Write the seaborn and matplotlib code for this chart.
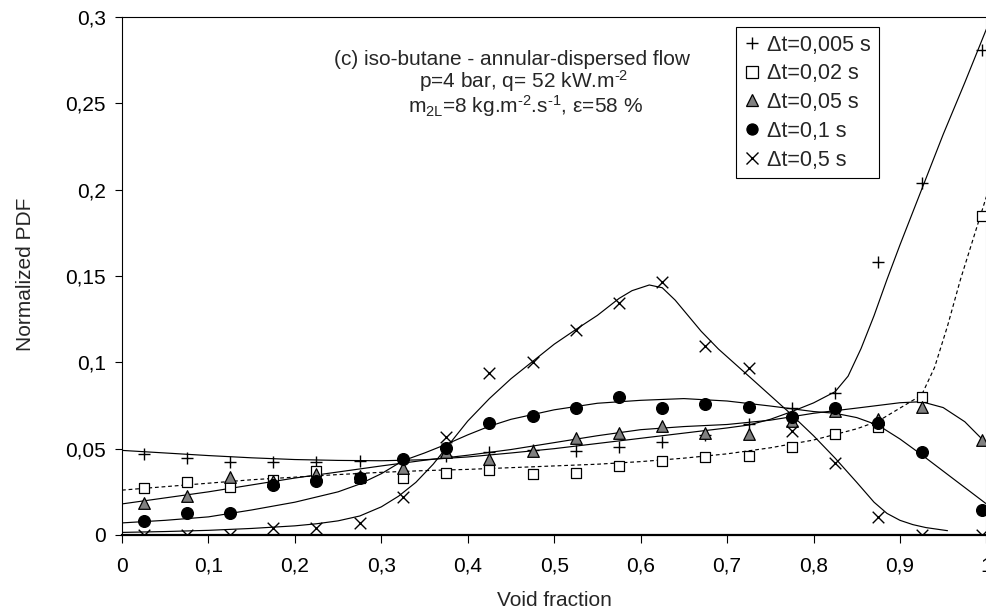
import numpy as np
import pandas as pd
import matplotlib
matplotlib.use("Agg")
import matplotlib.pyplot as plt
from matplotlib.lines import Line2D
import seaborn as sns

# ---------------- data ----------------
bins = [0.025, 0.075, 0.125, 0.175, 0.225, 0.275, 0.325, 0.375, 0.425, 0.475,
        0.525, 0.575, 0.625, 0.675, 0.725, 0.775, 0.825, 0.875, 0.925, 0.995]

pdf_005 = [0.047, 0.0445, 0.042, 0.0425, 0.0425, 0.043, 0.044, 0.046, 0.048, 0.049,
           0.0487, 0.051, 0.054, 0.058, 0.064, 0.0734, 0.082, 0.158, 0.204, 0.281]
pdf_02 = [0.027, 0.0305, 0.028, 0.032, 0.037, 0.033, 0.033, 0.036, 0.0376, 0.0353,
          0.0357, 0.040, 0.043, 0.045, 0.0457, 0.051, 0.0585, 0.0625, 0.080, 0.185]
pdf_05 = [0.0187, 0.0226, 0.0338, 0.031, 0.0353, 0.034, 0.0386, 0.048, 0.044, 0.0487,
          0.056, 0.059, 0.0633, 0.0593, 0.0585, 0.066, 0.072, 0.067, 0.0743, 0.055]
pdf_1 = [0.0083, 0.0125, 0.013, 0.029, 0.031, 0.033, 0.044, 0.0506, 0.0647, 0.069,
         0.0737, 0.080, 0.0737, 0.0759, 0.0743, 0.0685, 0.0734, 0.065, 0.048, 0.0145]
pdf_5 = [0.0, 0.0, 0.0, 0.0042, 0.0042, 0.0068, 0.022, 0.0566, 0.094, 0.1004,
         0.1187, 0.1345, 0.1467, 0.1095, 0.097, 0.060, 0.0415, 0.0102, 0.0, 0.0]

# trend curves
fit_005_x = [0, 0.05, 0.1, 0.15, 0.2, 0.25, 0.3, 0.35, 0.4, 0.45, 0.5, 0.55, 0.6, 0.65,
             0.7, 0.725, 0.75, 0.775, 0.8, 0.825, 0.84, 0.855, 0.87, 0.885, 0.9, 0.925,
             0.95, 0.975, 1.0]
fit_005_y = [0.049, 0.0475, 0.046, 0.0447, 0.0437, 0.0432, 0.043, 0.0436, 0.0452, 0.0475,
             0.050, 0.053, 0.056, 0.059, 0.062, 0.0637, 0.067, 0.0715, 0.0765, 0.083,
             0.092, 0.108, 0.127, 0.148, 0.168, 0.200, 0.232, 0.262, 0.293]

fit_02_x = [0, 0.05, 0.1, 0.15, 0.2, 0.25, 0.3, 0.35, 0.4, 0.45, 0.5, 0.55, 0.6, 0.65,
            0.7, 0.75, 0.8, 0.85, 0.875, 0.9, 0.925, 0.94, 0.955, 0.97, 0.985, 1.0]
fit_02_y = [0.026, 0.028, 0.030, 0.032, 0.0335, 0.035, 0.0363, 0.0373, 0.038, 0.039,
            0.040, 0.041, 0.0425, 0.0445, 0.047, 0.0505, 0.055, 0.0615, 0.066, 0.0735,
            0.081, 0.097, 0.121, 0.148, 0.172, 0.196]

fit_05_x = [0, 0.05, 0.1, 0.15, 0.2, 0.25, 0.3, 0.35, 0.4, 0.45, 0.5, 0.55, 0.6, 0.65,
            0.7, 0.75, 0.8, 0.85, 0.9, 0.925, 0.95, 0.975, 1.0]
fit_05_y = [0.018, 0.0215, 0.025, 0.029, 0.033, 0.0365, 0.040, 0.0433, 0.0462, 0.0495,
            0.0535, 0.0575, 0.061, 0.0628, 0.064, 0.0665, 0.0705, 0.0735, 0.0766, 0.0772,
            0.0738, 0.0656, 0.053]

fit_1_x = [0, 0.05, 0.1, 0.15, 0.2, 0.25, 0.275, 0.3, 0.325, 0.35, 0.375, 0.4, 0.425,
           0.45, 0.5, 0.55, 0.6, 0.65, 0.7, 0.75, 0.8, 0.825, 0.85, 0.875, 0.9, 0.925,
           0.95, 0.975, 1.0]
fit_1_y = [0.007, 0.0085, 0.0105, 0.0145, 0.019, 0.025, 0.0295, 0.0355, 0.043, 0.0475,
           0.0525, 0.058, 0.063, 0.067, 0.0725, 0.0763, 0.078, 0.079, 0.0776, 0.0747,
           0.0715, 0.0705, 0.068, 0.0635, 0.0556, 0.0465, 0.037, 0.0275, 0.018]

fit_5_x = [0, 0.05, 0.1, 0.15, 0.2, 0.225, 0.25, 0.275, 0.3, 0.32, 0.34, 0.36, 0.38,
           0.4, 0.425, 0.45, 0.475, 0.5, 0.525, 0.55, 0.575, 0.59, 0.61, 0.625, 0.64,
           0.655, 0.67, 0.69, 0.73, 0.77, 0.8, 0.825, 0.85, 0.87, 0.885, 0.9, 0.915,
           0.93, 0.955]
fit_5_y = [0.0015, 0.002, 0.0027, 0.0038, 0.0053, 0.0065, 0.0082, 0.011, 0.0163, 0.0225,
           0.0305, 0.041, 0.0535, 0.066, 0.079, 0.0905, 0.1005, 0.1105, 0.119, 0.1272,
           0.137, 0.1415, 0.1448, 0.1432, 0.136, 0.127, 0.118, 0.1077, 0.0898, 0.0718,
           0.0575, 0.0445, 0.0305, 0.019, 0.0125, 0.0085, 0.006, 0.0043, 0.0025]

labels = ["\u0394t=0,005 s", "\u0394t=0,02 s", "\u0394t=0,05 s", "\u0394t=0,1 s", "\u0394t=0,5 s"]
x_ticks = [0, 0.1, 0.2, 0.3, 0.4, 0.5, 0.6, 0.7, 0.8, 0.9, 1.0]
x_ticklabels = ["0", "0,1", "0,2", "0,3", "0,4", "0,5", "0,6", "0,7", "0,8", "0,9", "1"]
y_ticks = [0, 0.05, 0.1, 0.15, 0.2, 0.25, 0.3]
y_ticklabels = ["0", "0,05", "0,1", "0,15", "0,2", "0,25", "0,3"]

# ---------------- style ----------------
sns.set_style("white")
plt.rcParams["font.family"] = ["Liberation Sans", "DejaVu Sans"]
plt.rcParams["mathtext.fontset"] = "custom"
plt.rcParams["mathtext.rm"] = "Liberation Sans"
plt.rcParams["mathtext.it"] = "Liberation Sans:italic"
FS = 15
LFS = 15.5

W, H = 986, 614
fig = plt.figure(figsize=(W / 100, H / 100), dpi=100)
ax = fig.add_axes([122 / W, (H - 535) / H, 864.4 / W, 518 / H])

styles = [
    dict(marker="+", face="black"),
    dict(marker="s", face="white"),
    dict(marker="^", face="#808080"),
    dict(marker="o", face="black"),
    dict(marker="x", face="black"),
]
fits = [(fit_005_x, fit_005_y), (fit_02_x, fit_02_y), (fit_05_x, fit_05_y),
        (fit_1_x, fit_1_y), (fit_5_x, fit_5_y)]
series = [pdf_005, pdf_02, pdf_05, pdf_1, pdf_5]

# trend curves
for i, (fx, fy) in enumerate(fits):
    ls = (0, (3.2, 2.4)) if i == 1 else "-"
    sns.lineplot(x=fx, y=fy, ax=ax, color="black", linewidth=0.85, linestyle=ls,
                 estimator=None, sort=False, zorder=2)

# data points
sizes = [80, 62, 70, 72, 70]
for i, vals in enumerate(series):
    st = styles[i]
    if st["marker"] in ("+", "x"):
        sns.scatterplot(x=bins, y=vals, ax=ax, marker=st["marker"], s=sizes[i],
                        color="black", linewidth=1.0, zorder=3 + i)
    else:
        sns.scatterplot(x=bins, y=vals, ax=ax, marker=st["marker"], s=sizes[i],
                        color=st["face"], edgecolor="black", linewidth=0.9, zorder=3 + i)

ax.set_xlim(0, 1)
ax.set_ylim(0, 0.3)
ax.set_xticks(x_ticks)
ax.set_xticklabels(x_ticklabels)
ax.set_yticks(y_ticks)
ax.set_yticklabels(y_ticklabels)
ax.tick_params(axis="x", direction="out", length=5.5, width=0.8, pad=10, labelsize=FS,
               colors="black", bottom=True)
ax.tick_params(axis="y", direction="out", length=5, width=0.8, pad=6.5, labelsize=FS,
               colors="black", left=True)
for side in ["left", "top", "right"]:
    ax.spines[side].set_color("black")
    ax.spines[side].set_linewidth(0.8)
ax.spines["right"].set_color("#b0b0b0")
ax.spines["bottom"].set_color("black")
ax.spines["bottom"].set_linewidth(1.6)
ax.grid(False)

ax.set_xlabel("Void fraction", fontsize=FS, va="baseline")
ax.xaxis.set_label_coords(0.5, (535 - 606) / 518)
ax.set_ylabel("Normalized PDF", fontsize=FS, va="baseline")
ax.yaxis.set_label_coords((31 - 122) / 864.4, (535 - 274) / 518)

# annotation
fig.text(512 / W, 1 - 65 / H, "(c) iso-butane - annular-dispersed flow",
         ha="center", va="baseline", fontsize=FS)
fig.text(524 / W, 1 - 88 / H, r"p=4 bar, q= 52 kW.m$^{\text{-2}}$",
         ha="center", va="baseline", fontsize=FS)
fig.text(525 / W, 1 - 113 / H,
         r"m$_{\text{2L}}$=8 kg.m$^{\text{-2}}$.s$^{\text{-1}}$, $\mathrm{\varepsilon}$=58 %",
         ha="center", va="baseline", fontsize=FS)

# legend
handles = []
for i, st in enumerate(styles):
    if st["marker"] in ("+", "x"):
        h = Line2D([], [], ls="none", marker=st["marker"], color="black", ms=9, mew=1.0)
    else:
        h = Line2D([], [], ls="none", marker=st["marker"], mfc=st["face"], mec="black",
                   ms=8, mew=0.9)
    handles.append(h)
leg = fig.legend(handles, labels, loc="upper left",
                 bbox_to_anchor=(736 / W, 1 - 27 / H), bbox_transform=fig.transFigure,
                 fontsize=LFS, frameon=True, fancybox=False, framealpha=1,
                 edgecolor="black", borderpad=0.35, handlelength=0.8, handletextpad=0.3,
                 labelspacing=0.36, borderaxespad=0)
leg.get_frame().set_linewidth(0.8)

fig.savefig("out.png", dpi=100)
